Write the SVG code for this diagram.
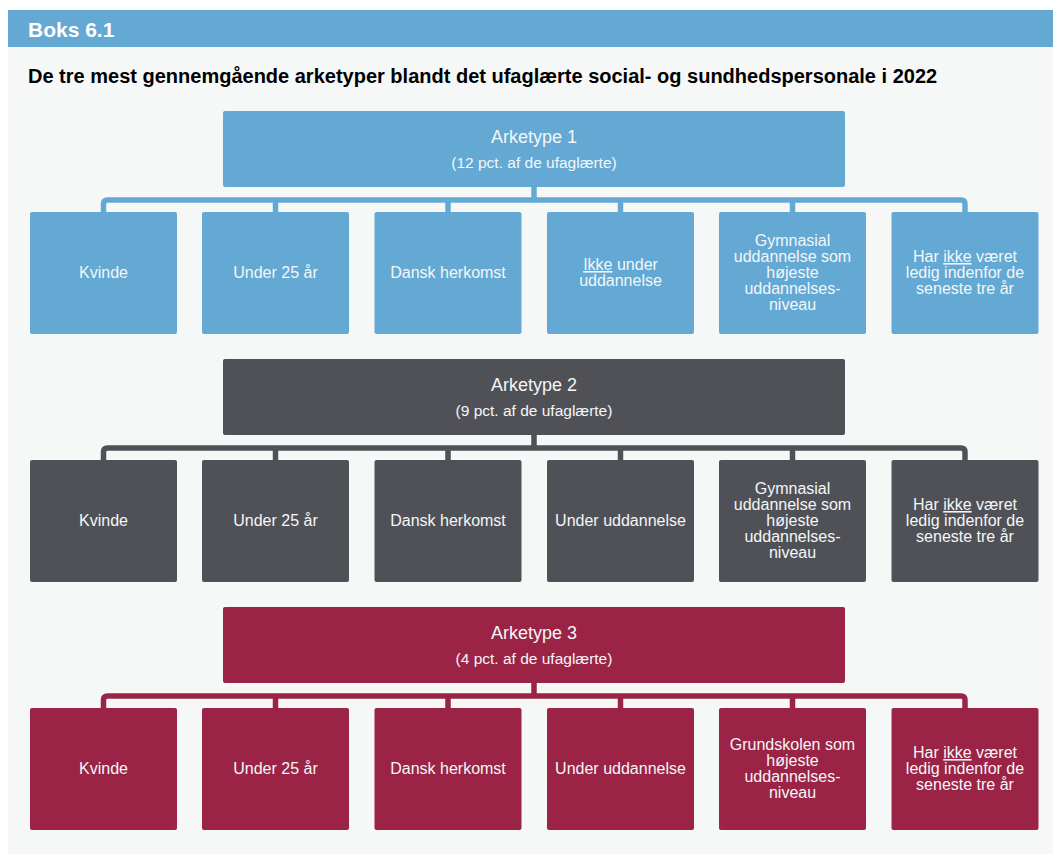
<svg xmlns="http://www.w3.org/2000/svg" width="1053" height="854" viewBox="0 0 1053 854">
<style>
.t{font-family:"Liberation Sans",Arial,Helvetica,sans-serif;fill:#f4f6f8;text-anchor:middle}
.hd{font-size:18px}
.sub{font-size:15.5px}
.c{font-size:16px}
.u{text-decoration:underline}
.b1{fill:#63a9d4}.b2{fill:#505157}.b3{fill:#9a2346}
.l{fill:none;stroke-width:5.5;stroke-linejoin:round}
.l1{stroke:#63a9d4}.l2{stroke:#505157}.l3{stroke:#9a2346}
</style>
<rect x="8" y="47" width="1045" height="807" fill="#f6f8f8"/>
<rect x="8" y="10" width="1045" height="37" fill="#63a9d4"/>
<text x="28" y="37" font-family="Liberation Sans,Arial,sans-serif" font-size="21" font-weight="bold" fill="#ffffff">Boks 6.1</text>
<text x="28" y="83" font-family="Liberation Sans,Arial,sans-serif" font-size="20" font-weight="bold" fill="#000000">De tre mest gennemgående arketyper blandt det ufaglærte social- og sundhedspersonale i 2022</text>

<g id="connectors">
<path class="l l1" d="M534,187V200M103.5,212V204Q103.5,200 107.5,200H961Q965,200 965,204V212M275.5,200V212M448,200V212M620.5,200V212M792.5,200V212"/>
<path class="l l2" transform="translate(0,248)" d="M534,187V200M103.5,212V204Q103.5,200 107.5,200H961Q965,200 965,204V212M275.5,200V212M448,200V212M620.5,200V212M792.5,200V212"/>
<path class="l l3" transform="translate(0,496)" d="M534,187V200M103.5,212V204Q103.5,200 107.5,200H961Q965,200 965,204V212M275.5,200V212M448,200V212M620.5,200V212M792.5,200V212"/>
</g>

<g id="a1">
<rect class="b1" x="223" y="111" width="622" height="76" rx="2"/>
<text class="t hd" x="534" y="143">Arketype 1</text>
<text class="t sub" x="534" y="168">(12 pct. af de ufaglærte)</text>
</g>
<g id="a1-1"><rect class="b1" x="30" y="212" width="147" height="122" rx="2"/><text class="t c" x="103.5" y="278">Kvinde</text></g>
<g id="a1-2"><rect class="b1" x="202" y="212" width="147" height="122" rx="2"/><text class="t c" x="275.5" y="278">Under 25 år</text></g>
<g id="a1-3"><rect class="b1" x="374.5" y="212" width="147" height="122" rx="2"/><text class="t c" x="448" y="278">Dansk herkomst</text></g>
<g id="a1-4"><rect class="b1" x="547" y="212" width="147" height="122" rx="2"/><text class="t c" x="620.5" y="270"><tspan class="u">Ikke</tspan> under</text><text class="t c" x="620.5" y="286">uddannelse</text></g>
<g id="a1-5"><rect class="b1" x="719" y="212" width="147" height="122" rx="2"/>
<text class="t c" x="792.5" y="246">Gymnasial</text><text class="t c" x="792.5" y="262">uddannelse som</text><text class="t c" x="792.5" y="278">højeste</text><text class="t c" x="792.5" y="294">uddannelses-</text><text class="t c" x="792.5" y="310">niveau</text></g>
<g id="a1-6"><rect class="b1" x="891.5" y="212" width="147" height="122" rx="2"/>
<text class="t c" x="965" y="262">Har <tspan class="u">ikke</tspan> været</text><text class="t c" x="965" y="278">ledig indenfor de</text><text class="t c" x="965" y="294">seneste tre år</text></g>

<g id="a2">
<rect class="b2" x="223" y="359" width="622" height="76" rx="2"/>
<text class="t hd" x="534" y="391">Arketype 2</text>
<text class="t sub" x="534" y="416">(9 pct. af de ufaglærte)</text>
</g>
<g id="a2-1"><rect class="b2" x="30" y="460" width="147" height="122" rx="2"/><text class="t c" x="103.5" y="526">Kvinde</text></g>
<g id="a2-2"><rect class="b2" x="202" y="460" width="147" height="122" rx="2"/><text class="t c" x="275.5" y="526">Under 25 år</text></g>
<g id="a2-3"><rect class="b2" x="374.5" y="460" width="147" height="122" rx="2"/><text class="t c" x="448" y="526">Dansk herkomst</text></g>
<g id="a2-4"><rect class="b2" x="547" y="460" width="147" height="122" rx="2"/><text class="t c" x="620.5" y="526">Under uddannelse</text></g>
<g id="a2-5"><rect class="b2" x="719" y="460" width="147" height="122" rx="2"/>
<text class="t c" x="792.5" y="494">Gymnasial</text><text class="t c" x="792.5" y="510">uddannelse som</text><text class="t c" x="792.5" y="526">højeste</text><text class="t c" x="792.5" y="542">uddannelses-</text><text class="t c" x="792.5" y="558">niveau</text></g>
<g id="a2-6"><rect class="b2" x="891.5" y="460" width="147" height="122" rx="2"/>
<text class="t c" x="965" y="510">Har <tspan class="u">ikke</tspan> været</text><text class="t c" x="965" y="526">ledig indenfor de</text><text class="t c" x="965" y="542">seneste tre år</text></g>

<g id="a3">
<rect class="b3" x="223" y="607" width="622" height="76" rx="2"/>
<text class="t hd" x="534" y="639">Arketype 3</text>
<text class="t sub" x="534" y="664">(4 pct. af de ufaglærte)</text>
</g>
<g id="a3-1"><rect class="b3" x="30" y="708" width="147" height="122" rx="2"/><text class="t c" x="103.5" y="774">Kvinde</text></g>
<g id="a3-2"><rect class="b3" x="202" y="708" width="147" height="122" rx="2"/><text class="t c" x="275.5" y="774">Under 25 år</text></g>
<g id="a3-3"><rect class="b3" x="374.5" y="708" width="147" height="122" rx="2"/><text class="t c" x="448" y="774">Dansk herkomst</text></g>
<g id="a3-4"><rect class="b3" x="547" y="708" width="147" height="122" rx="2"/><text class="t c" x="620.5" y="774">Under uddannelse</text></g>
<g id="a3-5"><rect class="b3" x="719" y="708" width="147" height="122" rx="2"/>
<text class="t c" x="792.5" y="750">Grundskolen som</text><text class="t c" x="792.5" y="766">højeste</text><text class="t c" x="792.5" y="782">uddannelses-</text><text class="t c" x="792.5" y="798">niveau</text></g>
<g id="a3-6"><rect class="b3" x="891.5" y="708" width="147" height="122" rx="2"/>
<text class="t c" x="965" y="758">Har <tspan class="u">ikke</tspan> været</text><text class="t c" x="965" y="774">ledig indenfor de</text><text class="t c" x="965" y="790">seneste tre år</text></g>
</svg>
